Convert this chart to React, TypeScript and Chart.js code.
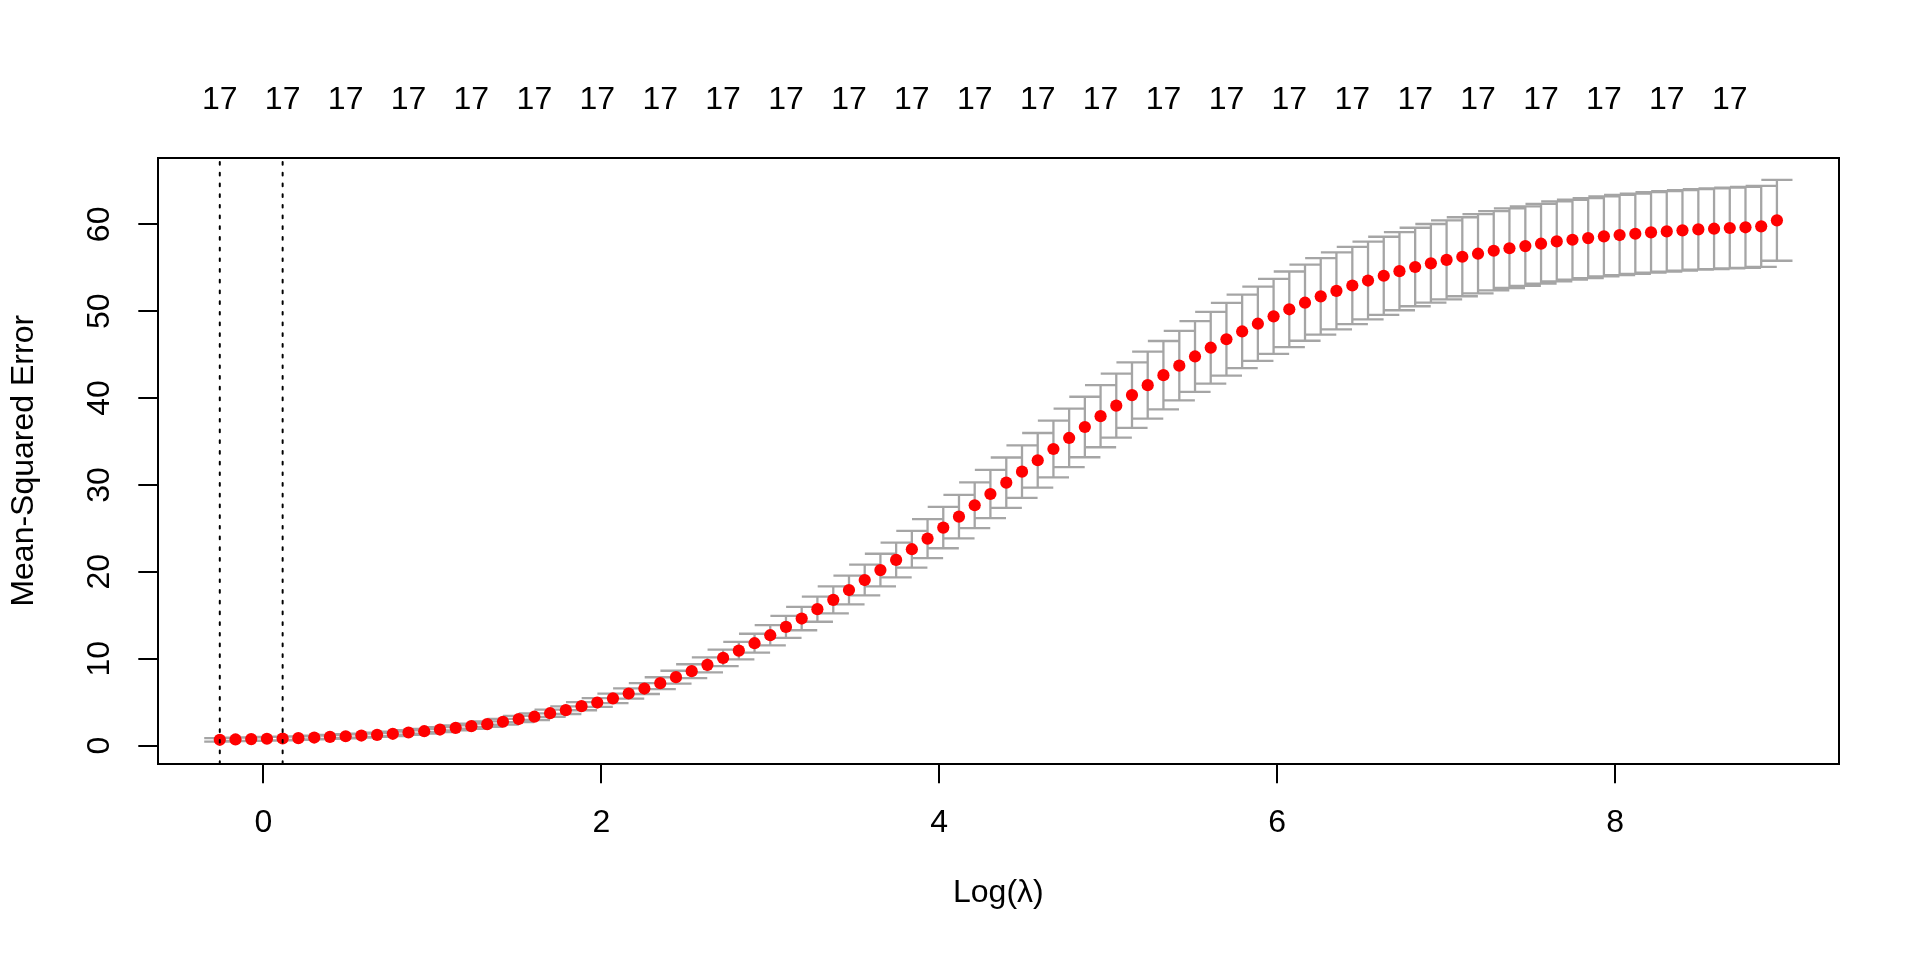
import { useEffect, useRef } from 'react'
import { Chart, registerables } from 'chart.js'

Chart.register(...registerables)

// log(lambda) for each of the 100 fits
const LOG_LAMBDA = [
  -0.258, -0.165, -0.072, 0.021, 0.114, 0.207, 0.301, 0.394, 0.487, 0.580,
  0.673, 0.766, 0.859, 0.952, 1.045, 1.138, 1.231, 1.325, 1.418, 1.511,
  1.604, 1.697, 1.790, 1.883, 1.976, 2.069, 2.162, 2.255, 2.349, 2.442,
  2.535, 2.628, 2.721, 2.814, 2.907, 3.000, 3.093, 3.186, 3.279, 3.373,
  3.466, 3.559, 3.652, 3.745, 3.838, 3.931, 4.024, 4.117, 4.210, 4.303,
  4.397, 4.490, 4.583, 4.676, 4.769, 4.862, 4.955, 5.048, 5.141, 5.234,
  5.327, 5.421, 5.514, 5.607, 5.700, 5.793, 5.886, 5.979, 6.072, 6.165,
  6.258, 6.351, 6.445, 6.538, 6.631, 6.724, 6.817, 6.910, 7.003, 7.096,
  7.189, 7.282, 7.375, 7.469, 7.562, 7.655, 7.748, 7.841, 7.934, 8.027,
  8.120, 8.213, 8.306, 8.399, 8.493, 8.586, 8.679, 8.772, 8.865, 8.958,
]

// cross-validated mean-squared error
const CV_MEAN = [
  0.66, 0.70, 0.74, 0.78, 0.81, 0.85, 0.92, 0.99, 1.07, 1.15,
  1.23, 1.35, 1.50, 1.65, 1.84, 2.04, 2.23, 2.46, 2.74, 3.05,
  3.32, 3.72, 4.07, 4.53, 4.95, 5.43, 5.99, 6.56, 7.18, 7.87,
  8.56, 9.29, 10.09, 10.93, 11.78, 12.70, 13.66, 14.62, 15.70, 16.77,
  17.90, 19.05, 20.20, 21.37, 22.60, 23.82, 25.09, 26.35, 27.66, 28.96,
  30.26, 31.53, 32.84, 34.14, 35.41, 36.67, 37.92, 39.13, 40.34, 41.49,
  42.64, 43.73, 44.79, 45.80, 46.77, 47.67, 48.56, 49.41, 50.22, 50.98,
  51.71, 52.34, 52.96, 53.53, 54.08, 54.61, 55.09, 55.51, 55.91, 56.27,
  56.62, 56.96, 57.25, 57.50, 57.77, 58.04, 58.23, 58.42, 58.62, 58.77,
  58.92, 59.08, 59.19, 59.31, 59.42, 59.50, 59.58, 59.66, 59.77, 60.46,
]

// standard error of the cv estimate
const CV_SE = [
  0.20, 0.20, 0.20, 0.21, 0.21, 0.21, 0.22, 0.22, 0.23, 0.23,
  0.24, 0.25, 0.26, 0.27, 0.28, 0.29, 0.30, 0.32, 0.34, 0.36,
  0.38, 0.41, 0.44, 0.47, 0.50, 0.54, 0.58, 0.63, 0.68, 0.74,
  0.80, 0.87, 0.94, 1.01, 1.09, 1.17, 1.26, 1.35, 1.45, 1.55,
  1.66, 1.77, 1.88, 2.00, 2.12, 2.25, 2.38, 2.51, 2.64, 2.77,
  2.90, 3.02, 3.14, 3.26, 3.37, 3.48, 3.58, 3.68, 3.77, 3.85,
  3.93, 4.00, 4.07, 4.13, 4.18, 4.23, 4.27, 4.31, 4.35, 4.38,
  4.41, 4.43, 4.45, 4.47, 4.49, 4.50, 4.52, 4.53, 4.54, 4.55,
  4.56, 4.57, 4.58, 4.58, 4.59, 4.60, 4.60, 4.61, 4.61, 4.62,
  4.62, 4.63, 4.63, 4.64, 4.64, 4.65, 4.65, 4.66, 4.67, 4.65,
]

const LAMBDA_MIN = -0.258
const LAMBDA_1SE = 0.114

// number of non-zero coefficients shown along the top
const NZERO_AT = [
  -0.258, 0.114, 0.487, 0.859, 1.231, 1.604, 1.976, 2.349, 2.721, 3.093,
  3.466, 3.838, 4.210, 4.583, 4.955, 5.327, 5.700, 6.072, 6.445, 6.817,
  7.189, 7.562, 7.934, 8.306, 8.679,
]
const NZERO_LABELS = [
  '17', '17', '17', '17', '17', '17', '17', '17', '17', '17',
  '17', '17', '17', '17', '17', '17', '17', '17', '17', '17',
  '17', '17', '17', '17', '17',
]

const X_TICKS = [0, 2, 4, 6, 8]
const Y_TICKS = [0, 10, 20, 30, 40, 50, 60]

const FONT = '"Liberation Sans", Arial, Helvetica, sans-serif'

export default function App() {
  const canvasRef = useRef<HTMLCanvasElement>(null)
  const chartRef = useRef<Chart | null>(null)

  useEffect(() => {
    if (!canvasRef.current) return
    if (chartRef.current) chartRef.current.destroy()

    const upper = CV_MEAN.map((m, i) => m + CV_SE[i])
    const lower = CV_MEAN.map((m, i) => m - CV_SE[i])

    // R-style 4% axis extension
    const xLo = Math.min(...LOG_LAMBDA), xHi = Math.max(...LOG_LAMBDA)
    const yLo = Math.min(...lower), yHi = Math.max(...upper)
    const xPad = (xHi - xLo) * 0.04, yPad = (yHi - yLo) * 0.04
    const xMin = xLo - xPad, xMax = xHi + xPad
    const yMin = yLo - yPad, yMax = yHi + yPad
    const cap = (xHi - xLo) * 0.01

    const bars: { x: number; y: number | null }[] = []
    LOG_LAMBDA.forEach((x, i) => {
      const up = upper[i], lo = lower[i]
      bars.push(
        { x, y: up }, { x, y: lo }, { x, y: null },
        { x: x - cap, y: up }, { x: x + cap, y: up }, { x, y: null },
        { x: x - cap, y: lo }, { x: x + cap, y: lo }, { x, y: null },
      )
    })

    const vlines = [
      { x: LAMBDA_MIN, y: yMin }, { x: LAMBDA_MIN, y: yMax }, { x: LAMBDA_MIN, y: null },
      { x: LAMBDA_1SE, y: yMin }, { x: LAMBDA_1SE, y: yMax },
    ]

    chartRef.current = new Chart(canvasRef.current, {
      type: 'scatter',
      data: {
        datasets: [
          {
            data: vlines as any,
            showLine: true,
            borderColor: '#000000',
            borderWidth: 2,
            borderDash: [2.7, 8],
            borderCapStyle: 'round',
            pointRadius: 0,
            order: 0,
          },
          {
            data: LOG_LAMBDA.map((x, i) => ({ x, y: CV_MEAN[i] })),
            backgroundColor: '#ff0000',
            borderWidth: 0,
            pointRadius: 6.1,
            pointHoverRadius: 6.1,
            order: 1,
          },
          {
            data: bars as any,
            showLine: true,
            borderColor: '#a5a5a5',
            borderWidth: 2.3,
            pointRadius: 0,
            spanGaps: false,
            order: 2,
          },
        ],
      },
      options: {
        responsive: false,
        devicePixelRatio: 1,
        animation: false,
        events: [],
        layout: { padding: { left: 0, right: 80.8, top: 0, bottom: 0 } },
        plugins: { legend: { display: false }, tooltip: { enabled: false } },
        scales: {
          x: {
            type: 'linear',
            position: 'bottom',
            min: xMin,
            max: xMax,
            afterBuildTicks: (s) => { s.ticks = X_TICKS.map(v => ({ value: v })) },
            afterFit: (s) => { s.height = 196 },
            ticks: { autoSkip: false, maxRotation: 0, padding: 20.9, color: '#000', callback: (v) => String(v) },
            grid: { drawOnChartArea: false, drawTicks: true, tickLength: 19.2, color: '#000', lineWidth: 2 },
            border: { display: true, color: '#000', width: 2 },
            title: { display: true, text: 'Log(λ)', color: '#000', padding: { top: 0, bottom: 47.8 } },
          },
          x2: {
            type: 'linear',
            position: 'top',
            min: xMin,
            max: xMax,
            afterBuildTicks: (s) => { s.ticks = NZERO_AT.map(v => ({ value: v })) },
            afterFit: (s) => { s.height = 157.5 },
            ticks: { autoSkip: false, maxRotation: 0, padding: 37.8, color: '#000', callback: (_v, i) => NZERO_LABELS[i] },
            grid: { display: false, drawOnChartArea: false, drawTicks: false },
            border: { display: true, color: '#000', width: 2 },
          },
          y: {
            type: 'linear',
            position: 'left',
            min: yMin,
            max: yMax,
            afterBuildTicks: (s) => { s.ticks = Y_TICKS.map(v => ({ value: v })) },
            afterFit: (s) => { s.width = 157.5 },
            ticks: { autoSkip: false, minRotation: 90, maxRotation: 90, crossAlign: 'center', padding: 20.5, color: '#000', callback: (v) => String(v) },
            grid: { drawOnChartArea: false, drawTicks: true, tickLength: 19.2, color: '#000', lineWidth: 2 },
            border: { display: true, color: '#000', width: 2 },
            title: { display: true, text: 'Mean-Squared Error', color: '#000', padding: { top: 4.8, bottom: 0 } },
          },
          y2: {
            type: 'linear',
            position: 'right',
            min: yMin,
            max: yMax,
            afterFit: (s) => { s.width = 0 },
            ticks: { display: false },
            grid: { display: false, drawOnChartArea: false, drawTicks: false },
            border: { display: true, color: '#000', width: 2 },
          },
        },
      },
    })

    return () => { chartRef.current?.destroy() }
  }, [])

  return (
    <div style={{ position: 'fixed', left: 0, top: 0, width: 1920, height: 960, background: '#fff' }}>
      <canvas ref={canvasRef} width={1920} height={960} style={{ display: 'block', width: 1920, height: 960 }} />
    </div>
  )
}

Chart.defaults.font.family = FONT
Chart.defaults.font.size = 32
Chart.defaults.color = '#000'
